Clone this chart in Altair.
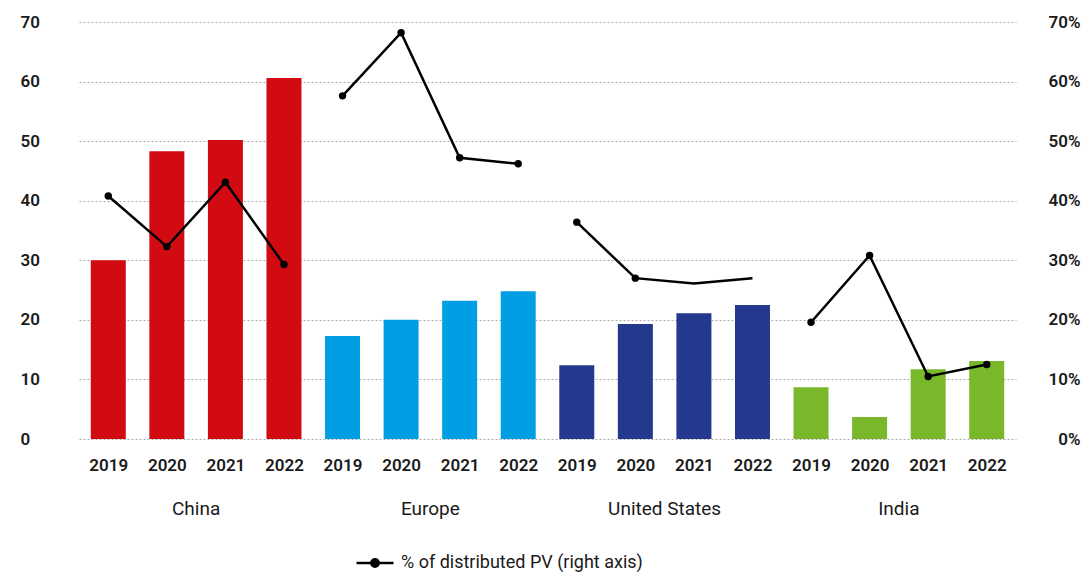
import json
import altair as alt
import pandas as pd

regions = ["China", "Europe", "United States", "India"]
years = ["2019", "2020", "2021", "2022"]
colors = ["#d20a12", "#009fe3", "#22398e", "#78b82a"]
capacity = {
    "China": [30.0, 48.3, 50.2, 60.6],
    "Europe": [17.3, 20.0, 23.2, 24.8],
    "United States": [12.4, 19.3, 21.1, 22.5],
    "India": [8.7, 3.7, 11.7, 13.1],
}
share = {
    "China": [40.8, 32.3, 43.1, 29.3],
    "Europe": [57.6, 68.2, 47.2, 46.2],
    "United States": [36.4, 27.0, 26.1, 27.0],
    "India": [19.6, 30.8, 10.5, 12.5],
}
marker = {
    "China": [True, True, True, True],
    "Europe": [True, True, True, True],
    "United States": [True, True, False, False],
    "India": [True, True, True, True],
}
series_name = "% of distributed PV (right axis)"

rows = []
for ri, r in enumerate(regions):
    for yi, y in enumerate(years):
        rows.append(dict(idx=ri * 4 + yi, region=r, year=y, value=capacity[r][yi],
                         share=share[r][yi], marker=marker[r][yi], series=series_name))
df = pd.DataFrame(rows)
lab = pd.DataFrame([dict(region=r, center=ri * 4 + 1.5) for ri, r in enumerate(regions)])

W, H = 937, 417
FONT = "Liberation Sans Narrow, Roboto, sans-serif"
TXT = "#1a1a1a"

year_labels = json.dumps([y for r in regions for y in years])
xscale = alt.Scale(domain=[-0.5, 15.5], nice=False, zero=False, padding=0)
xenc = alt.X("idx:Q", scale=xscale,
             axis=alt.Axis(values=list(range(16)), labelExpr=f"{year_labels}[datum.value]",
                           title=None, domain=False, ticks=False, grid=False, labelPadding=18,
                           labelFontSize=17, labelFontWeight=600, labelColor=TXT, labelFont=FONT))

base = alt.Chart(df)
bars = base.mark_bar(size=35).encode(
    x=xenc,
    y=alt.Y("value:Q", scale=alt.Scale(domain=[0, 70], nice=False),
            axis=alt.Axis(values=list(range(0, 71, 10)), orient="left", title=None, domain=False,
                          ticks=False, grid=True, gridDash=[2, 2], gridColor="#aaaaaa",
                          labelAlign="left", labelPadding=59, labelFontSize=17, labelFontWeight=600,
                          labelColor=TXT, labelFont=FONT)),
    color=alt.Color("region:N", scale=alt.Scale(domain=regions, range=colors), legend=None),
)

yshare = alt.Scale(domain=[0, 70], nice=False)
right_axis = alt.Axis(values=list(range(0, 71, 10)), orient="right", title=None, domain=False,
                      ticks=False, grid=False, labelExpr="datum.value + '%'",
                      labelAlign="right", labelPadding=64, labelFontSize=17, labelFontWeight=600,
                      labelColor=TXT, labelFont=FONT)
line = base.mark_line(strokeWidth=2.5).encode(
    x=alt.X("idx:Q", scale=xscale),
    y=alt.Y("share:Q", scale=yshare, axis=right_axis),
    detail="region:N",
    stroke=alt.Stroke("series:N", scale=alt.Scale(range=["black"]),
                      legend=alt.Legend(title=None, orient="none", legendX=276, legendY=521,
                                        symbolType="M-1,0H1M-0.2,0A0.2,0.2 0 1,0 0.2,0A0.2,0.2 0 1,0 -0.2,0",
                                        symbolSize=1369, symbolStrokeWidth=2.5,
                                        symbolFillColor="black", symbolStrokeColor="black",
                                        labelFontSize=18, labelFont=FONT, labelColor=TXT,
                                        labelLimit=500, labelOffset=6)),
)
points = base.transform_filter("datum.marker").mark_point(filled=True, size=55, color="black", opacity=1).encode(
    x=alt.X("idx:Q", scale=xscale),
    y=alt.Y("share:Q", scale=yshare, axis=right_axis),
)

region_text = alt.Chart(lab).mark_text(fontSize=19, font=FONT, color=TXT).encode(
    x=alt.X("center:Q", scale=xscale),
    y=alt.value(H + 70),
    text="region:N",
)

chart = alt.layer(bars, alt.layer(line, points), region_text).resolve_scale(y="independent").properties(
    width=W, height=H,
    autosize=alt.AutoSizeParams(type="none"),
    padding={"left": 79, "top": 22, "right": 74, "bottom": 133},
).configure_view(stroke=None)

chart.save("out.html", embed_options={"renderer": "svg", "actions": False})
